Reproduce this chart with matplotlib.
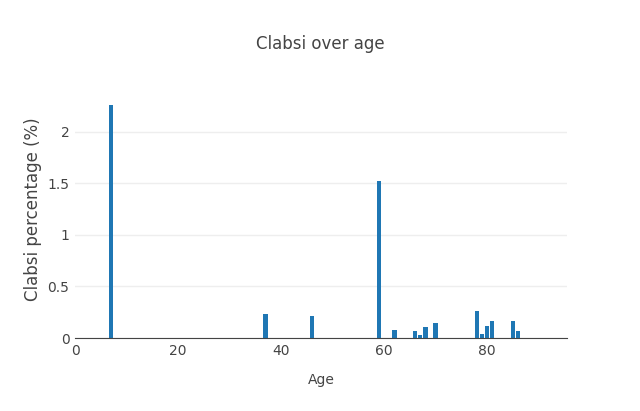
import matplotlib.pyplot as plt

ages = [7, 37, 46, 59, 62, 66, 67, 68, 70, 78, 79, 80, 81, 85, 86]
clabsi = [2.26, 0.23, 0.21, 1.52, 0.08, 0.065, 0.03, 0.11, 0.15, 0.26, 0.04, 0.12, 0.16, 0.16, 0.07]

fig = plt.figure(figsize=(6.4, 4.11), dpi=100)
ax = fig.add_axes([75 / 640, 1 - 338 / 411, (567 - 75) / 640, (338 - 80) / 411])
ax.bar(ages, clabsi, width=0.85, color='#1f77b4')

ax.set_xlim(0, 95.5)
ax.set_ylim(0, 2.5)
ax.set_xticks([0, 20, 40, 60, 80])
ax.set_yticks([0, 0.5, 1, 1.5, 2])
ax.set_yticklabels(['0', '0.5', '1', '1.5', '2'])
ax.grid(axis='y', color='#eeeeee', linewidth=1)
ax.set_axisbelow(True)
for s in ['top', 'right', 'left']:
    ax.spines[s].set_visible(False)
ax.spines['bottom'].set_color('#444444')
ax.tick_params(length=0, labelsize=10, colors='#444444', pad=4)
ax.set_xlabel('Age', fontsize=10, color='#444444', labelpad=11)
ax.set_ylabel('Clabsi percentage (%)', fontsize=12, color='#444444', labelpad=4)
fig.suptitle('Clabsi over age', y=0.915, fontsize=12, color='#444444')

fig.savefig('out.png', dpi=100)
